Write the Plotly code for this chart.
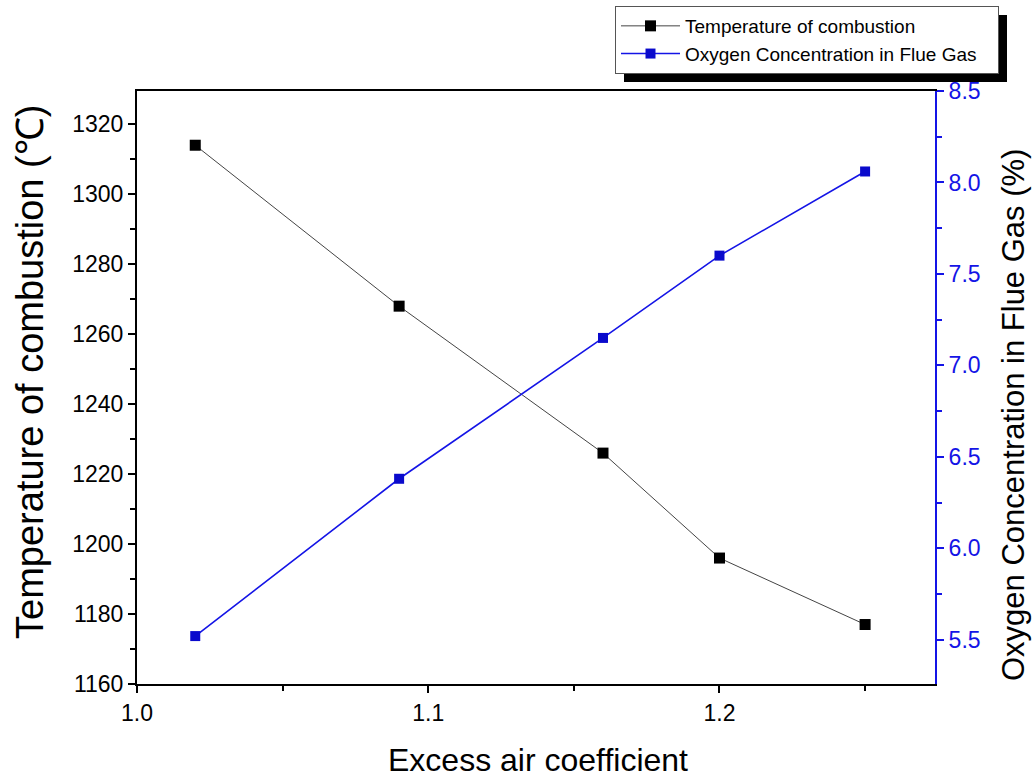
import plotly.graph_objects as go

excess_air = [1.02, 1.09, 1.16, 1.20, 1.25]
temperature = [1314, 1268, 1226, 1196, 1177]
oxygen = [5.52, 6.38, 7.15, 7.60, 8.06]

series_names = ["Temperature of combustion", "Oxygen Concentration in Flue Gas"]
x_title = "Excess air coefficient"
y1_title = "Temperature of combustion (℃)"
y2_title = "Oxygen Concentration in Flue Gas (%)"

BLUE = "#1414e6"
FONT = "Liberation Sans, Arial, sans-serif"
PAD = "\u00a0" * 3  # right padding inside the legend box

fig = go.Figure()
fig.add_trace(go.Scatter(
    x=excess_air, y=temperature, mode="lines+markers",
    name=series_names[0],
    line=dict(color="#444444", width=1),
    marker=dict(symbol="square", size=11, color="black"),
))
fig.add_trace(go.Scatter(
    x=excess_air, y=oxygen, mode="lines+markers",
    name=series_names[1] + PAD, yaxis="y2",
    line=dict(color=BLUE, width=1.6),
    marker=dict(symbol="square", size=10, color="#0a0acc"),
))

L, R, T, B = 137, 100, 91, 94
W, H = 1035, 778
pw, ph = W - L - R, H - T - B

def px(x):
    return (x - L) / pw

def py(y):
    return (H - B - y) / ph

fig.update_layout(
    width=W, height=H,
    margin=dict(l=L, r=R, t=T, b=B, autoexpand=False),
    paper_bgcolor="white", plot_bgcolor="white",
    font=dict(family=FONT, color="black"),
    showlegend=True,
    legend=dict(
        x=px(615), y=py(6), xanchor="left", yanchor="top",
        bgcolor="white", bordercolor="#555555", borderwidth=1,
        font=dict(size=19, family=FONT), tracegroupgap=0, itemwidth=59,
    ),
    xaxis=dict(
        range=[1.0, 1.274], tickvals=[1.0, 1.1, 1.2], ticktext=["1.0", "1.1", "1.2"],
        ticks="outside", ticklen=7, tickwidth=2, tickcolor="black",
        minor=dict(tickvals=[1.05, 1.15, 1.25], ticks="outside", ticklen=5, tickwidth=2, tickcolor="black"),
        showline=True, linecolor="black", linewidth=2, mirror=True,
        showgrid=False, zeroline=False,
        tickfont=dict(size=23, color="black"),
    ),
    yaxis=dict(
        range=[1160, 1329.5], dtick=20, tick0=1160,
        ticks="outside", ticklen=7, tickwidth=2, tickcolor="black",
        minor=dict(dtick=10, ticks="outside", ticklen=5, tickwidth=2, tickcolor="black"),
        showline=True, linecolor="black", linewidth=2,
        showgrid=False, zeroline=False,
        tickfont=dict(size=23, color="black"),
    ),
    yaxis2=dict(
        overlaying="y", side="right",
        range=[5.258, 8.5], dtick=0.5, tick0=5.5, tickformat=".1f",
        ticks="outside", ticklen=7, tickwidth=2, tickcolor=BLUE,
        minor=dict(dtick=0.25, ticks="outside", ticklen=5, tickwidth=2, tickcolor=BLUE),
        showline=True, linecolor=BLUE, linewidth=2,
        showgrid=False, zeroline=False,
        tickfont=dict(size=23, color=BLUE),
    ),
    shapes=[dict(type="rect", xref="paper", yref="paper", x0=px(624), y0=py(15), x1=px(1007), y1=py(82),
                 fillcolor="black", line=dict(width=0), layer="below")],
    annotations=[
        dict(text=x_title, xref="paper", yref="paper", x=px(538), y=py(760),
             xanchor="center", yanchor="middle", showarrow=False, font=dict(size=32)),
        dict(text=y1_title, xref="paper", yref="paper", x=px(30), y=py(372),
             xanchor="center", yanchor="middle", textangle=-90, showarrow=False, font=dict(size=38)),
        dict(text=y2_title, xref="paper", yref="paper", x=px(1013), y=py(415),
             xanchor="center", yanchor="middle", textangle=-90, showarrow=False, font=dict(size=31)),
    ],
)

fig.write_html("out.html", post_script="document.body.style.margin='0';",
               config={"displayModeBar": False})
